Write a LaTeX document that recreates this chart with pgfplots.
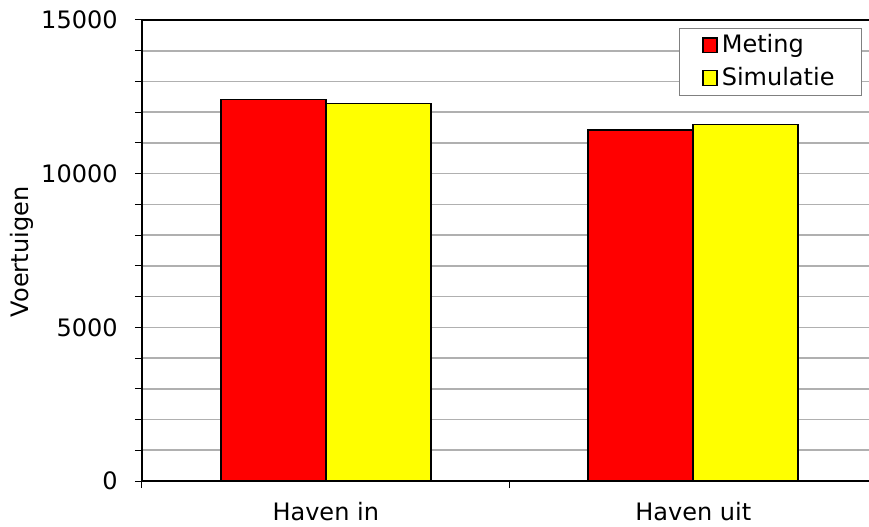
\documentclass[border=0pt]{standalone}
\usepackage{pgfplots}
\pgfplotsset{compat=1.18}
\usepackage{fontspec}
\setmainfont{DejaVu Sans}
\definecolor{gridgray}{HTML}{B0B0B0}
\definecolor{barred}{HTML}{FF0000}
\definecolor{baryellow}{HTML}{FFFF00}
\begin{document}
\fontsize{12}{14.4}\selectfont
\begin{tikzpicture}
\begin{axis}[
  at={(71pt,22.5pt)}, anchor=south west,
  scale only axis, width=367.5pt, height=230.5pt,
  ybar=0pt, bar width=52.5pt,
  xmin=-0.5, xmax=1.5, ymin=0, ymax=15000,
  xtick={-0.5,0.5,1.5}, xticklabels={Haven in,Haven uit,},
  xticklabel style={xshift=91.875pt, yshift=-3pt},
  ytick={0,5000,10000,15000},
  minor ytick={1000,2000,3000,4000,6000,7000,8000,9000,11000,12000,13000,14000},
  ymajorgrids, yminorgrids,
  major grid style={gridgray, line width=0.8pt},
  minor grid style={gridgray, line width=0.8pt},
  tick align=outside, tick pos=left,
  major tick length=3.5pt, minor tick length=3.5pt,
  tick style={black, line width=0.5pt},
  axis line style={black, line width=1pt},
  yticklabel style={xshift=-4.5pt},
  scaled y ticks=false,
  /pgf/number format/assume math mode=true,
  yticklabel={\pgfmathprintnumber[fixed,1000 sep={}]{\tick}},
  ylabel={Voertuigen},
  every axis y label/.append style={at={(axis description cs:-0.164,0.497)}, anchor=center},
  legend cell align=left,
  legend style={at={(0.9796,0.9826)}, anchor=north east, draw=gray, line width=0.5pt,
    fill=white, inner xsep=11.5pt, inner ysep=1pt, row sep=1.5pt,
    nodes={inner sep=2pt}},
]
\addplot[fill=barred, draw=black, line width=0.9pt,
  legend image code/.code={\draw[fill=barred, draw=black, line width=0.8pt] (0pt,-3.6pt) rectangle (7pt,3.8pt);}]
  coordinates {(0,12410) (1,11410)};
\addplot[fill=baryellow, draw=black, line width=0.9pt,
  legend image code/.code={\draw[fill=baryellow, draw=black, line width=0.8pt] (0pt,-3.6pt) rectangle (7pt,3.8pt);}]
  coordinates {(0,12280) (1,11600)};
\legend{Meting,Simulatie}
\end{axis}
\pgfresetboundingbox
\path[use as bounding box] (0,0) rectangle (434.5pt,263pt);
\end{tikzpicture}
\end{document}
